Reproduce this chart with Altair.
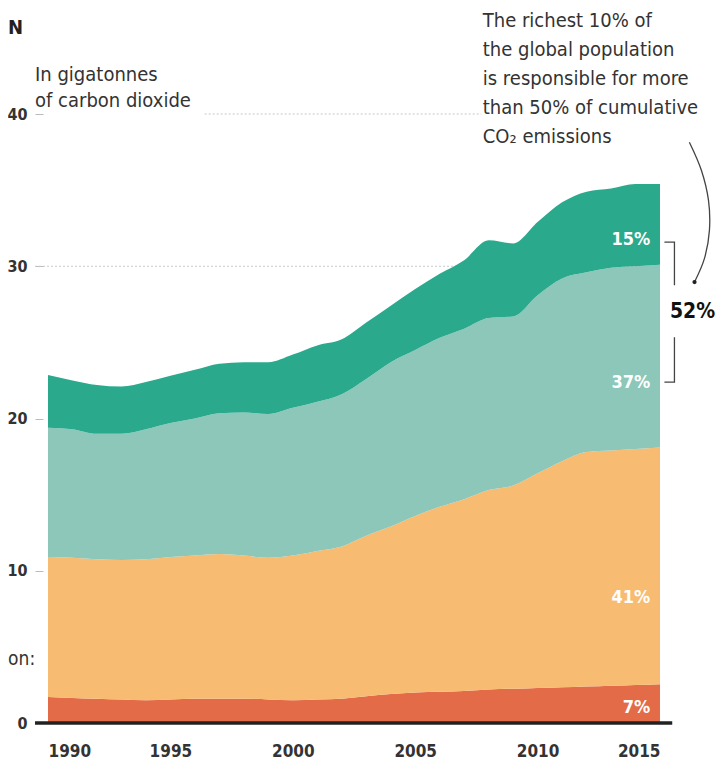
import altair as alt
import pandas as pd

FONT = "Liberation Sans Narrow, DejaVu Sans Condensed, Arial Narrow, Roboto, sans-serif"

years = list(range(1990, 2016))
groups = ["Poorest 50%", "Middle 40%", "Next 9%", "Richest 1%"]
colors = ["#e36b48", "#f8bb72", "#8cc7ba", "#2aa98d"]

poorest_50 = [1.7, 1.65, 1.6, 1.55, 1.5, 1.55, 1.6, 1.6, 1.6, 1.55, 1.5, 1.55, 1.6,
              1.75, 1.9, 2.0, 2.05, 2.1, 2.2, 2.25, 2.3, 2.35, 2.4, 2.45, 2.5, 2.55]
middle_40 = [9.2, 9.2, 9.15, 9.15, 9.25, 9.35, 9.4, 9.5, 9.4, 9.3, 9.5, 9.75, 10.0,
             10.55, 11.0, 11.6, 12.15, 12.6, 13.1, 13.35, 14.1, 14.85, 15.4, 15.45, 15.5, 15.55]
next_9 = [8.5, 8.45, 8.25, 8.3, 8.55, 8.8, 9.0, 9.25, 9.4, 9.45, 9.7, 9.8, 10.0,
          10.3, 10.8, 10.9, 11.1, 11.2, 11.3, 11.1, 11.7, 12.0, 11.8, 12.0, 12.0, 12.0]
richest_1 = [3.45, 3.2, 3.2, 3.1, 3.1, 3.1, 3.2, 3.25, 3.3, 3.4, 3.5, 3.7, 3.6,
             3.7, 3.7, 4.0, 4.2, 4.5, 5.1, 4.8, 4.8, 5.0, 5.3, 5.2, 5.4, 5.3]

series = [poorest_50, middle_40, next_9, richest_1]
rows = []
for gi, (g, vals) in enumerate(zip(groups, series)):
    for y, v in zip(years, vals):
        rows.append({"year": y, "group": g, "value": v, "order": gi})
df = pd.DataFrame(rows)

year_ticks = [1990, 1995, 2000, 2005, 2010, 2015]
value_ticks = [0, 10, 20, 30, 40]

# annotation data
pct_labels = ["7%", "41%", "37%", "15%"]
pct_y = [0.98, 8.2, 22.32, 31.71]
pct_x = [2014.6, 2014.6, 2014.6, 2014.6]

note_lines = ["The richest 10% of", "the global population", "is responsible for more",
              "than 50% of cumulative", "CO₂ emissions"]
note_y = [46.09, 44.19, 42.28, 40.38, 38.47]
note_x = [2007.76] * 5

unit_lines = ["In gigatonnes", "of carbon dioxide"]
unit_y = [42.55, 40.84]
unit_x = [1989.47] * 2

grid_y = [30, 40]
grid_x0 = [1989.47, 1996.4]
grid_x1 = [2015, 2007.7]

arc_x = [2016.2, 2016.69, 2016.98, 2017.02, 2016.82, 2016.41]
arc_y = [38.15, 36.31, 34.34, 32.37, 30.53, 28.96]

bracket_x = [2015.18, 2015.59, 2015.59, 2015.59, 2015.59, 2015.18]
bracket_y = [31.58, 31.58, 28.76, 25.34, 22.39, 22.39]
bracket_seg = [0, 0, 0, 1, 1, 1]

xs = alt.Scale(domain=[1990, 2015], nice=False, zero=False)
ys = alt.Scale(domain=[0, 40], nice=False)

x_axis = alt.Axis(
    values=year_ticks, format="d", title=None, domain=False, ticks=False, grid=False,
    labelPadding=20, labelFontSize=17, labelFont=FONT, labelColor="#333",
    labelFontWeight="bold")
y_axis = alt.Axis(
    values=value_ticks, title=None, domain=False, grid=False, tickSize=8,
    tickColor="#bbbbbb", offset=5, labelPadding=8, labelFontSize=16, labelFont=FONT,
    labelColor="#333", labelFontWeight="bold")


def X(field):
    return alt.X(field, type="quantitative", scale=xs, axis=x_axis, title=None)


def Y(field, **kw):
    return alt.Y(field, type="quantitative", scale=ys, axis=y_axis, title=None, **kw)


grid = alt.Chart(pd.DataFrame({"y": grid_y, "x0": grid_x0, "x1": grid_x1})).mark_rule(
    color="#c8c8c8", strokeDash=[2, 2], strokeWidth=1
).encode(x=X("x0"), x2="x1", y=Y("y"))

area = alt.Chart(df).mark_area(interpolate="monotone").encode(
    x=X("year"),
    y=Y("value", stack="zero"),
    color=alt.Color("group:N", scale=alt.Scale(domain=groups, range=colors), legend=None),
    order=alt.Order("order:Q", sort="ascending"),
)

baseline = alt.Chart(pd.DataFrame({"x0": [1989.47], "x1": [2015.5], "y": [0]})).mark_rule(
    color="#222", strokeWidth=3.5
).encode(x=X("x0"), x2="x1", y=Y("y"))

pct = alt.Chart(pd.DataFrame({"x": pct_x, "y": pct_y, "t": pct_labels})).mark_text(
    align="right", baseline="middle", font=FONT, fontSize=18, fontWeight="bold", color="white"
).encode(x=X("x"), y=Y("y"), text="t:N")

note = alt.Chart(pd.DataFrame({"x": note_x, "y": note_y, "t": note_lines})).mark_text(
    align="left", baseline="middle", font=FONT, fontSize=20, color="#333"
).encode(x=X("x"), y=Y("y"), text="t:N")

unit = alt.Chart(pd.DataFrame({"x": unit_x, "y": unit_y, "t": unit_lines})).mark_text(
    align="left", baseline="middle", font=FONT, fontSize=20, color="#333"
).encode(x=X("x"), y=Y("y"), text="t:N")

cut_n = alt.Chart(pd.DataFrame({"x": [1988.37], "y": [45.63], "t": ["N"]})).mark_text(
    align="left", baseline="middle", font=FONT, fontSize=20, color="#222", fontWeight="bold"
).encode(x=X("x"), y=Y("y"), text="t:N")

cut_on = alt.Chart(pd.DataFrame({"x": [1988.37], "y": [4.2], "t": ["on:"]})).mark_text(
    align="left", baseline="middle", font=FONT, fontSize=19, color="#333"
).encode(x=X("x"), y=Y("y"), text="t:N")

big = alt.Chart(pd.DataFrame({"x": [2016.33], "y": [27.0], "t": ["52%"]})).mark_text(
    align="center", baseline="middle", font=FONT, fontSize=21, fontWeight="bold", color="#111"
).encode(x=X("x"), y=Y("y"), text="t:N")

arc = alt.Chart(pd.DataFrame({"x": arc_x, "y": arc_y, "i": list(range(len(arc_x)))})).mark_line(
    interpolate="cardinal", color="#444", strokeWidth=1.3
).encode(x=X("x"), y=Y("y"), order="i:Q")

dot = alt.Chart(pd.DataFrame({"x": [arc_x[-1]], "y": [arc_y[-1]]})).mark_point(
    filled=True, color="#222", size=18, opacity=1
).encode(x=X("x"), y=Y("y"))

bracket = alt.Chart(pd.DataFrame({"x": bracket_x, "y": bracket_y, "s": bracket_seg,
                                  "i": list(range(6))})).mark_line(
    color="#444", strokeWidth=1.3
).encode(x=X("x"), y=Y("y"), detail="s:N", order="i:Q")

chart = alt.layer(grid, area, baseline, pct, note, unit, cut_n, cut_on, big, arc, dot,
                  bracket).properties(
    width=612, height=609,
    autosize=alt.AutoSizeParams(type="none"),
    padding={"left": 40, "top": 106, "right": 57, "bottom": 40},
).configure_view(stroke=None)

chart.save("out.html", embed_options={"renderer": "svg", "actions": False})
